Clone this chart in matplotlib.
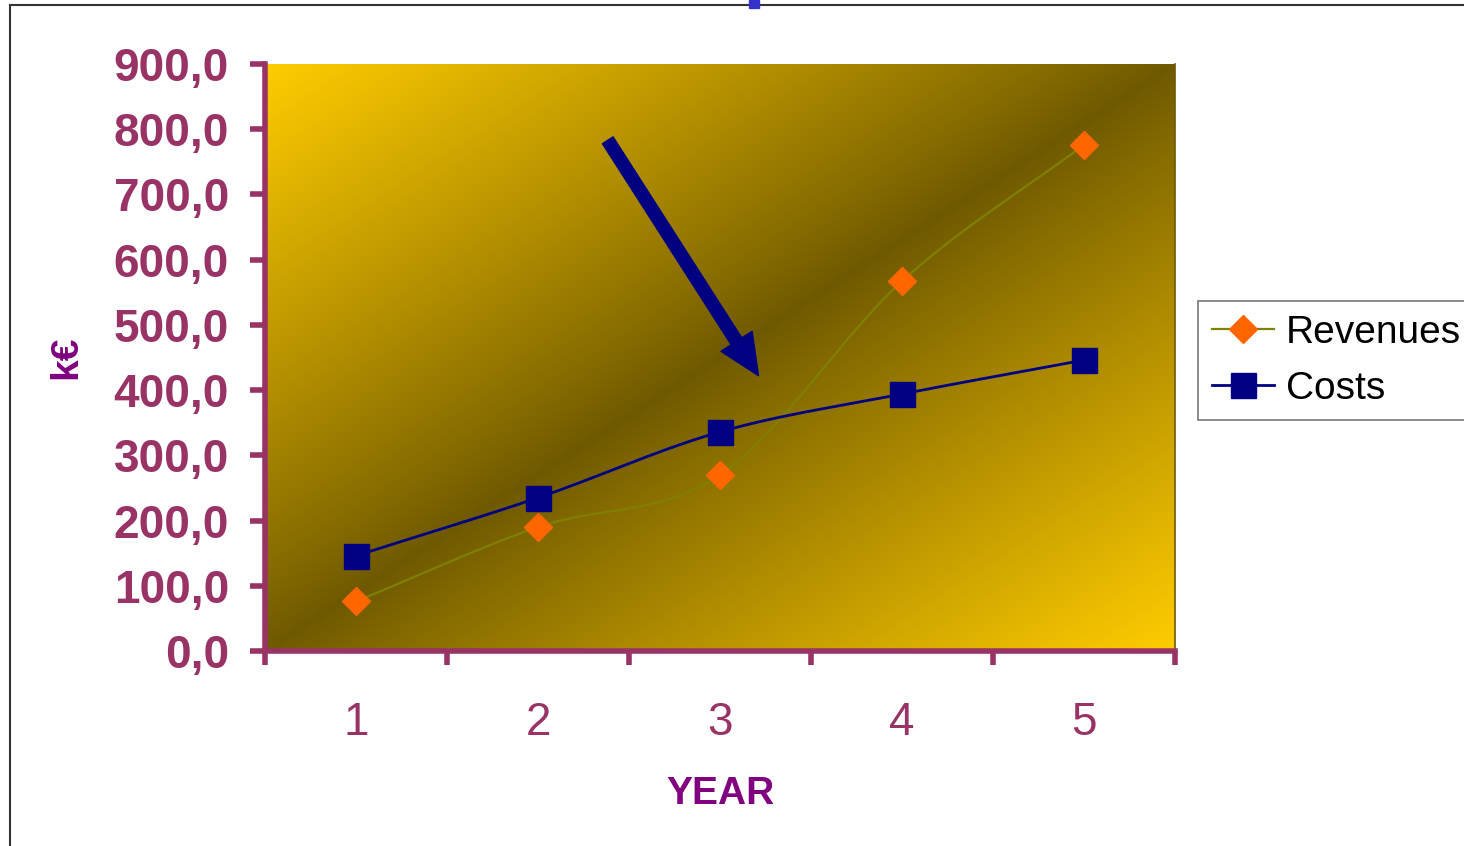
import numpy as np
import matplotlib.pyplot as plt
from matplotlib.patches import Rectangle, FancyArrowPatch
from matplotlib.colors import to_rgb

years = [1, 2, 3, 4, 5]
revenues = [76.0, 190.0, 270.0, 567.0, 776.0]
costs = [146.0, 235.0, 336.0, 394.0, 446.0]
y_ticks = [0, 100, 200, 300, 400, 500, 600, 700, 800, 900]
y_labels = ["0,0", "100,0", "200,0", "300,0", "400,0", "500,0", "600,0", "700,0", "800,0", "900,0"]

PLUM = "#993366"
PURPLE = "#800080"
plt.rcParams['font.family'] = ['Liberation Sans', 'DejaVu Sans']


def smooth(xs, ys, n=40):
    # Catmull-Rom curve through the points, like a smoothed line in a spreadsheet
    xs = np.asarray(xs, float)
    ys = np.asarray(ys, float)
    px = np.concatenate([[2 * xs[0] - xs[1]], xs, [2 * xs[-1] - xs[-2]]])
    py = np.concatenate([[2 * ys[0] - ys[1]], ys, [2 * ys[-1] - ys[-2]]])
    ox, oy = [], []
    t = np.linspace(0, 1, n)
    for i in range(1, len(px) - 2):
        for p, out in ((px, ox), (py, oy)):
            p0, p1, p2, p3 = p[i - 1], p[i], p[i + 1], p[i + 2]
            out.extend(0.5 * (2 * p1 + (-p0 + p2) * t
                              + (2 * p0 - 5 * p1 + 4 * p2 - p3) * t ** 2
                              + (-p0 + 3 * p1 - 3 * p2 + p3) * t ** 3))
    return np.array(ox), np.array(oy)


fig = plt.figure(figsize=(14.64, 8.46), dpi=100)
ax = fig.add_axes([265 / 1464, 1 - 651 / 846, 910 / 1464, 587 / 846])

# diagonal gradient: yellow corners, dark band from bottom-left to top-right
u, v = np.meshgrid(np.linspace(0, 1, 400), np.linspace(0, 1, 300))
t = np.abs(u - v) ** 0.92
c1 = np.array(to_rgb("#6f5900"))
c2 = np.array(to_rgb("#ffcc00"))
img = c1 + (c2 - c1) * t[..., None]
ax.imshow(img, extent=[0, 1, 0, 1], origin="lower", transform=ax.transAxes,
          aspect="auto", zorder=0, interpolation="bilinear")

rx, ry = smooth(years, revenues)
cx, cy = smooth(years, costs)
ax.plot(rx, ry, color="#808000", lw=1.6, zorder=3)
ax.plot(cx, cy, color="#000080", lw=2, zorder=3)
ax.plot(years, revenues, ls="none", marker="D", ms=14, color="#ff6600", zorder=4)
ax.plot(years, costs, ls="none", marker="s", ms=18, color="#000080", zorder=4)
ax.plot([], [], color="#808000", lw=1.6, marker="D", ms=14, mfc="#ff6600", mec="#ff6600", label="Revenues")
ax.plot([], [], color="#000080", lw=2, marker="s", ms=18, label="Costs")

ax.set_xlim(0.5, 5.5)
ax.set_ylim(0, 900)
ax.set_yticks(y_ticks)
ax.set_yticklabels(y_labels)
ax.set_xticks(np.arange(0.5, 6, 1.0))
ax.set_xticklabels([])
ax.set_xticks(years, minor=True)
ax.set_xticklabels([str(y) for y in years], minor=True)

ax.tick_params(axis="y", direction="out", length=11, width=4, color=PLUM,
               labelsize=33, labelcolor=PLUM, pad=15)
for lab in ax.get_yticklabels():
    lab.set_fontweight("bold")
ax.tick_params(axis="x", which="major", direction="out", length=10, width=4, color=PLUM)
ax.tick_params(axis="x", which="minor", length=0, labelsize=33, labelcolor=PLUM, pad=36)

for side in ("left", "bottom"):
    ax.spines[side].set_color(PLUM)
    ax.spines[side].set_linewidth(4)
ax.spines["top"].set_visible(False)
ax.spines["right"].set_color("#6f5900")
ax.spines["right"].set_linewidth(1.2)

ax.set_ylabel("k€", fontsize=28, fontweight="bold", color=PURPLE, labelpad=21)
ax.set_xlabel("YEAR", fontsize=28, fontweight="bold", color=PURPLE, labelpad=22)

arrow = FancyArrowPatch((0.375, 0.874), (0.544, 0.465), transform=ax.transAxes,
                        arrowstyle="simple,head_length=2.1,head_width=1.9,tail_width=0.65",
                        mutation_scale=14, color="#000080", zorder=5)
ax.add_patch(arrow)

leg = fig.legend(loc="upper left", bbox_to_anchor=(1198 / 1464, 1 - 301 / 846),
                 fontsize=28, frameon=True, fancybox=False, borderpad=0.35,
                 handlelength=1.6, handletextpad=0.3, labelspacing=0.52,
                 borderaxespad=0)
leg.get_frame().set_edgecolor("#555555")
leg.get_frame().set_linewidth(1.2)

# chart border and selection handle
fig.add_artist(Rectangle((10 / 1464, -0.05), 1.2, 1 - 5 / 846 + 0.05, transform=fig.transFigure,
                         fill=False, edgecolor="#333333", lw=1.5))
fig.add_artist(Rectangle((749 / 1464, 1 - 8 / 846), 10 / 1464, 8 / 846, transform=fig.transFigure,
                         color="#3333cc"))

fig.savefig("out.png", dpi=100)
